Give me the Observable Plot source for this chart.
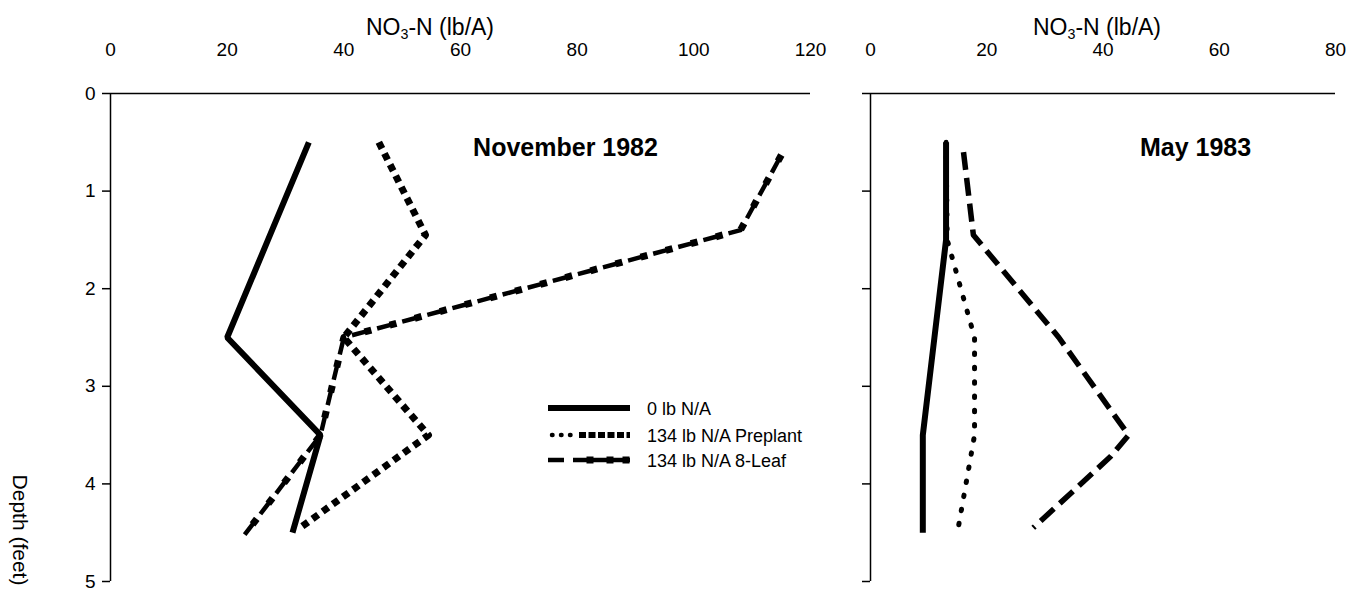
<!DOCTYPE html>
<html><head><meta charset="utf-8">
<script src="https://cdn.jsdelivr.net/npm/d3@7"></script>
<script src="https://cdn.jsdelivr.net/npm/@observablehq/plot@0.6"></script>
<style>
body{margin:0;background:#fff;}
#wrap{position:relative;width:1357px;height:591px;font-family:"Liberation Sans",Arial,sans-serif;color:#000;overflow:hidden;background:#fff}
.abs{position:absolute}
.xt{font-size:23px;line-height:23px;white-space:nowrap;transform:translateX(-50%)}
.xt sub{font-size:0.62em;vertical-align:-0.3em;line-height:0}
.yt{font-size:21px;line-height:21px;white-space:nowrap;transform:translate(-50%,-50%) rotate(90deg)}
</style></head><body><div id="wrap"></div>
<script>
// ---------- data ----------
const seriesNames = ["0 lb N/A", "134 lb N/A Preplant", "134 lb N/A 8-Leaf"];
const panelTitles = ["November 1982", "May 1983"];
const depthTicks = [0, 1, 2, 3, 4, 5];
const novTicks = [0, 20, 40, 60, 80, 100, 120];
const mayTicks = [0, 20, 40, 60, 80];

// November 1982
const novDepth0 = [0.5, 1.5, 2.5, 3.5, 4.5];
const novN0 = [34, 27, 20, 36, 31.2];
const novDepthPre = [0.5, 1.45, 2.5, 3.5, 4.45];
const novNPre = [46, 54, 40, 54.5, 32.5];
const novDepth8 = [0.63, 1.4, 2.5, 3.5, 4.52];
const novN8 = [115, 108, 40, 36, 23];

// May 1983
const mayDepth0 = [0.5, 1.5, 2.5, 3.5, 4.5];
const mayN0 = [13, 13, 11, 9, 9];
const mayDepthPre = [0.5, 1.5, 2.5, 3.5, 4.45];
const mayNPre = [13, 13.2, 17.9, 17.9, 15.1];
const mayDepth8 = [0.6, 1.45, 2.5, 3.5, 3.72, 4.45];
const mayN8 = [16, 17.7, 32.4, 44.4, 41.3, 28];

const rows = (depths, vals) => depths.map((d, i) => ({depth: d, n: vals[i]}));

// ---------- layout ----------
const wrap = document.getElementById("wrap");
const H = 591, MT = 93, MB = 10;
const baseStyle = {fontFamily: '"Liberation Sans", Arial, sans-serif', fontSize: "19px", color: "#000", background: "transparent", overflow: "visible"};

function panel({width, ml, mr, domain, ticks, showLabels, title, titleDx, lines}) {
  return Plot.plot({
    width, height: H, marginLeft: ml, marginRight: mr, marginTop: MT, marginBottom: MB,
    style: baseStyle,
    x: {domain, axis: null},
    y: {domain: [0, 5], reverse: true, axis: null},
    marks: [
      Plot.axisX({anchor: "top", ticks, tickSize: 0, tickPadding: 38, label: null, fontSize: 19}),
      Plot.axisY({anchor: "left", ticks: depthTicks, tickSize: 8, tickPadding: 7, strokeWidth: 1.5, label: null,
                  tickFormat: showLabels ? (d => String(d)) : (() => ""), fontSize: 19}),
      Plot.ruleX([0], {stroke: "#000", strokeWidth: 1.5}),
      Plot.ruleY([0], {stroke: "#000", strokeWidth: 1.5}),
      ...lines,
      Plot.text([title], {frameAnchor: "top-left", dx: titleDx, dy: 54, textAnchor: "middle", lineAnchor: "middle",
                          fontWeight: "bold", fontSize: 25, fill: "#000"})
    ]
  });
}

const solid = (data) => Plot.line(data, {x: "n", y: "depth", stroke: "#000", strokeWidth: 6, strokeLinecap: "butt", strokeLinejoin: "miter"});

const left = panel({
  width: 840, ml: 110, mr: 30, domain: [0, 120], ticks: novTicks, showLabels: true,
  title: panelTitles[0], titleDx: 455,
  lines: [
    solid(rows(novDepth0, novN0)),
    Plot.line(rows(novDepthPre, novNPre), {x: "n", y: "depth", stroke: "#000", strokeWidth: 7, strokeDasharray: "7 5.5", strokeLinecap: "butt"}),
    Plot.line(rows(novDepth8, novN8), {x: "n", y: "depth", stroke: "#000", strokeWidth: 4.5, strokeDasharray: "14 12", strokeDashoffset: 20, strokeLinecap: "butt"}),
    Plot.line(rows(novDepth8, novN8), {x: "n", y: "depth", stroke: "#000", strokeWidth: 7, strokeDasharray: "7 19", strokeLinecap: "butt"})
  ]
});
left.style.position = "absolute"; left.style.left = "0px"; left.style.top = "0px";
wrap.appendChild(left);

const right = panel({
  width: 517, ml: 30, mr: 22, domain: [0, 80], ticks: mayTicks, showLabels: false,
  title: panelTitles[1], titleDx: 325,
  lines: [
    solid(rows(mayDepth0, mayN0)),
    Plot.line(rows(mayDepthPre, mayNPre), {x: "n", y: "depth", stroke: "#000", strokeWidth: 5, strokeDasharray: "1.5 12.8", strokeLinecap: "round"}),
    Plot.line(rows(mayDepth8, mayN8), {x: "n", y: "depth", stroke: "#000", strokeWidth: 5.5, strokeDasharray: "18 8", strokeLinecap: "butt"})
  ]
});
right.style.position = "absolute"; right.style.left = "840px"; right.style.top = "0px";
wrap.appendChild(right);

// axis titles
function xTitle(cx) {
  const d = document.createElement("div");
  d.className = "abs xt";
  d.style.left = cx + "px"; d.style.top = "16px";
  d.innerHTML = "NO<sub>3</sub>-N (lb/A)";
  wrap.appendChild(d);
}
xTitle(430); xTitle(1097);
const yt = document.createElement("div");
yt.className = "abs yt"; yt.style.left = "20px"; yt.style.top = "530px";
yt.textContent = "Depth (feet)";
wrap.appendChild(yt);

// legend
const lg = d3.select(wrap).append("svg").attr("class", "abs")
  .style("left", "540px").style("top", "395px").attr("width", 320).attr("height", 90)
  .style("font-family", '"Liberation Sans", Arial, sans-serif').style("font-size", "18px");
const ly = [13, 40, 65];
// row 1 solid
lg.append("line").attr("x1", 8).attr("x2", 90).attr("y1", ly[0]).attr("y2", ly[0]).attr("stroke", "#000").attr("stroke-width", 6);
// row 2 dots then squares
lg.append("line").attr("x1", 12).attr("x2", 34).attr("y1", ly[1]).attr("y2", ly[1]).attr("stroke", "#000").attr("stroke-width", 4.5).attr("stroke-linecap", "round").attr("stroke-dasharray", "0.5 8.5");
lg.append("line").attr("x1", 39).attr("x2", 90).attr("y1", ly[1]).attr("y2", ly[1]).attr("stroke", "#000").attr("stroke-width", 6).attr("stroke-dasharray", "7 2.5");
// row 3 dash then dash-squares
lg.append("line").attr("x1", 8).attr("x2", 24).attr("y1", ly[2]).attr("y2", ly[2]).attr("stroke", "#000").attr("stroke-width", 4.5);
lg.append("line").attr("x1", 33).attr("x2", 90).attr("y1", ly[2]).attr("y2", ly[2]).attr("stroke", "#000").attr("stroke-width", 4.5);
[50, 70, 86].forEach(x => lg.append("rect").attr("x", x - 3.5).attr("y", ly[2] - 3.5).attr("width", 7).attr("height", 7).attr("fill", "#000"));
lg.selectAll("text.lab").data(seriesNames).join("text").attr("class", "lab")
  .attr("x", 107).attr("y", (d, i) => ly[i] + 7).attr("fill", "#000").text(d => d);
</script></body></html>
